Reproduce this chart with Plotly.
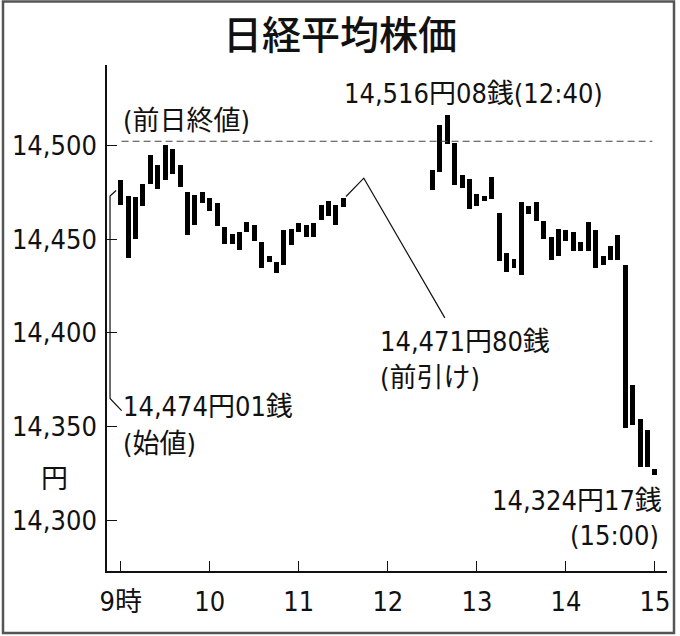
import plotly.graph_objects as go

# ---- data (5-minute bars: top/bottom of each bar, yen) ----
morning_start = "9:00"
afternoon_start = "12:30"
morning_high = [14481.4, 14472.9, 14472.4, 14479.5, 14494.7, 14489.5, 14500.2, 14498.4,
                14489.5, 14475.0, 14473.4, 14475.2, 14472.0, 14469.1, 14456.3, 14452.7,
                14453.9, 14459.2, 14457.4, 14448.5, 14441.2, 14438.1, 14455.1, 14455.6,
                14458.4, 14457.4, 14458.8, 14468.4, 14470.6, 14468.4, 14472.0]
morning_low = [14468.4, 14439.9, 14450.3, 14467.6, 14479.5, 14477.0, 14481.4, 14484.9,
               14477.9, 14452.4, 14457.4, 14469.4, 14464.9, 14456.8, 14447.4, 14447.4,
               14444.4, 14453.6, 14448.8, 14434.6, 14437.6, 14431.9, 14436.4, 14447.1,
               14453.6, 14451.2, 14451.2, 14460.3, 14462.4, 14457.8, 14467.0]
afternoon_high = [14487.2, 14511.2, 14516.1, 14501.4, 14484.3, 14482.2, 14474.0, 14473.3,
                  14483.0, 14464.1, 14442.9, 14439.4, 14469.7, 14467.9, 14469.7, 14459.6,
                  14451.0, 14455.6, 14455.1, 14453.6, 14448.3, 14459.1, 14455.1, 14440.8,
                  14446.2, 14452.0, 14436.4, 14372.2, 14354.0, 14348.1, 14327.6]
afternoon_low = [14476.1, 14485.7, 14500.9, 14479.1, 14477.4, 14466.3, 14467.9, 14470.2,
                 14471.5, 14438.5, 14432.5, 14434.6, 14431.0, 14463.6, 14459.6, 14450.2,
                 14439.0, 14440.8, 14449.2, 14443.9, 14443.5, 14443.5, 14434.9, 14436.4,
                 14439.0, 14438.7, 14349.4, 14350.8, 14328.2, 14328.2, 14324.2]

prev_close = 14502.3
open_price = 14474.01
high_price = 14516.08
am_close = 14471.80
close_price = 14324.17

tick_hours = [9, 10, 11, 12, 13, 14, 15]
tick_labels = ["9時", "10", "11", "12", "13", "14", "15"]
y_ticks = [14300, 14350, 14400, 14450, 14500]
y_tick_labels = ["14,300", "14,350", "14,400", "14,450", "14,500"]


def to_hour(s):
    h, m = s.split(":")
    return int(h) + int(m) / 60


def session_hours(start, n):
    h0 = to_hour(start)
    return [h0 + 5 * i / 60 for i in range(n)]


x = session_hours(morning_start, len(morning_high)) + session_hours(afternoon_start, len(afternoon_high))
highs = morning_high + afternoon_high
lows = morning_low + afternoon_low

FONT = "DejaVu Sans Condensed, Noto Sans CJK JP, sans-serif"
CJK = "Noto Sans CJK JP, sans-serif"
FS = 27

fig = go.Figure()
fig.add_trace(go.Bar(
    x=x, y=[h - l for h, l in zip(highs, lows)], base=lows,
    width=0.056, marker=dict(color="black", line=dict(width=0)),
    hoverinfo="skip", showlegend=False,
))

X0, X1 = 8.846, 15.135
Y0, Y1 = 14272.9, 14543.0

fig.update_layout(
    width=680, height=636,
    margin=dict(l=107, r=13, t=65, b=65, autoexpand=False),
    paper_bgcolor="white", plot_bgcolor="white",
    font=dict(family=FONT, color="#111", size=FS),
    title=dict(text="日経平均株価", x=0.5, xref="container", xanchor="center",
               y=1 - 35 / 636, yref="container", yanchor="middle",
               font=dict(family=CJK, size=39, color="#111", weight=500)),
    xaxis=dict(range=[X0, X1], showgrid=False, zeroline=False, showline=True, automargin=False,
               linecolor="#111", linewidth=1.5, ticks="inside", ticklen=10, tickwidth=1.3,
               tickcolor="#111", tickvals=tick_hours, ticktext=tick_labels,
               tickfont=dict(size=FS), ticklabelstandoff=6),
    yaxis=dict(range=[Y0, Y1], showgrid=False, zeroline=False, showline=True, automargin=False,
               linecolor="#111", linewidth=1.5, ticks="inside", ticklen=10, tickwidth=1.3,
               tickcolor="#111", tickvals=y_ticks, ticktext=y_tick_labels,
               tickfont=dict(size=FS), ticklabelstandoff=3),
    bargap=0,
)

# previous close dashed line
fig.add_shape(type="line", xref="x", yref="y", x0=9.01, x1=14.97, y0=prev_close, y1=prev_close,
              line=dict(color="#444", width=1.2, dash="7px,4px"))

# leader lines
lead = dict(color="#111", width=1.2)
fig.add_shape(type="path", xref="x", yref="y",
              path=f"M 8.948,{open_price + 2} L 8.88,{open_price - 1} L 8.88,14365 L 9.01,14358.5",
              line=lead)
fig.add_shape(type="path", xref="x", yref="y",
              path=f"M 11.53,{am_close + 1} L 11.73,14482.6 L 12.64,14408",
              line=lead)

# outer frame
fig.add_shape(type="rect", xref="paper", yref="paper",
              x0=(3 - 107) / 560, x1=(674 - 107) / 560,
              y0=(571 - 633) / 506, y1=(571 - 1.5) / 506,
              line=dict(color="#555", width=2.5))


def ann(text, xv, yv, xanchor="left"):
    fig.add_annotation(text=text, x=xv, y=yv, xref="x", yref="y", showarrow=False,
                       xanchor=xanchor, yanchor="middle", font=dict(size=FS, family=FONT),
                       borderpad=0)


ann("(前日終値)", 9.014, 14513.6)
ann("14,516円08銭(12:40)", 11.50, 14528.0)
ann("14,471円80銭", 11.90, 14395.6)
ann("(前引け)", 11.90, 14376.3)
ann("14,474円01銭", 9.02, 14360.8)
ann("(始値)", 9.02, 14341.1)
ann("14,324円17銭", 15.09, 14310.6, xanchor="right")
ann("(15:00)", 15.06, 14291.9, xanchor="right")

fig.add_annotation(text="円", xref="paper", yref="paper", x=(54 - 107) / 560, y=(571 - 478) / 506,
                   xanchor="center", yanchor="middle", showarrow=False,
                   font=dict(size=FS, family=FONT))

fig.write_html("out.html", config={"displayModeBar": False},
               post_script="document.body.style.margin='0px';")
